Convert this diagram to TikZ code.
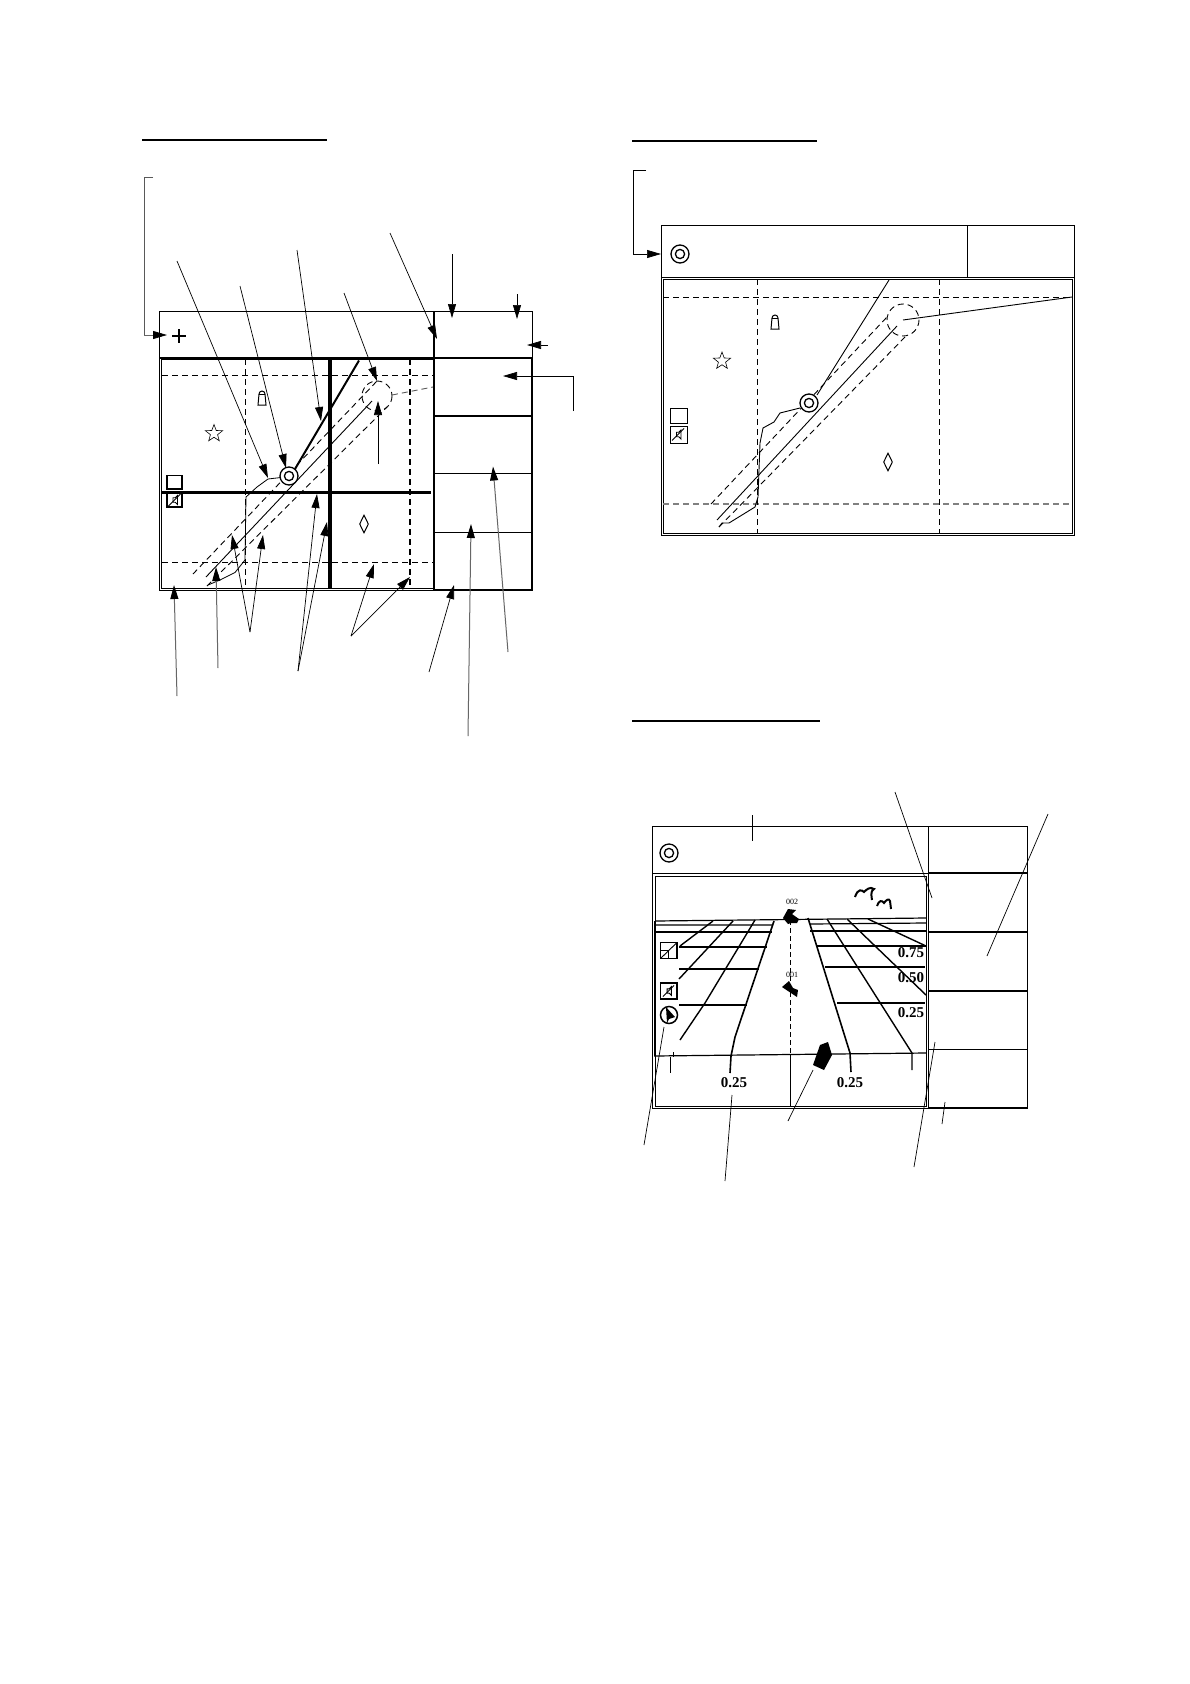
\documentclass[tikz,border=0pt]{standalone}
\usepackage{fontspec}
\setmainfont{Liberation Serif}
\usetikzlibrary{arrows.meta,shapes.geometric}
\tikzset{
  thin line/.style={line width=0.9pt},
  mid line/.style={line width=1.5pt},
  thick bar/.style={line width=2.6pt},
  heavy bar/.style={line width=3.8pt},
  dash line/.style={line width=0.9pt,dash pattern=on 6pt off 4pt},
  grey dash/.style={line width=1.2pt,dash pattern=on 6pt off 4pt,draw=black!50},
  lead/.style={line width=0.7pt,-{Triangle[length=14pt,width=8pt]}},
  greylead/.style={line width=1pt,draw=black!60,-{Triangle[length=14pt,width=8pt,black]}},
  plainlead/.style={line width=0.7pt},
  starmark/.style={star,star points=5,star point ratio=2.4,draw,line width=0.6pt,inner sep=0pt,minimum size=18pt},
  diamark/.style={diamond,draw,line width=1pt,inner sep=0pt,minimum width=9pt,minimum height=18pt},
  pics/ownship/.style={code={
    \draw[line width=1.3pt,fill=white] (0,0) circle[radius=9];
    \draw[line width=1.3pt] (0,0) circle[radius=4.6];}},
  pics/beacon/.style={code={
    \draw[line width=1pt] (-4,7) -- (-3,-4) arc[start angle=180,end angle=360,radius=3] -- (4,7) -- cycle;
    \draw[line width=1pt] (-3.2,-3.5) -- (3.2,-3.5);}},
  pics/speaker/.style={code={
    \draw[line width=0.9pt] (-2,-3) -- (-2,3) -- (1,3) -- (4,6) -- (4,-6) -- (1,-3) -- cycle;
    \draw[line width=0.9pt] (-8,8) -- (8,-8);}},
  scene/.style={line width=1.2pt},
  sign/.style={font=\bfseries\fontsize{15}{15}\selectfont,inner sep=0pt},
  tiny/.style={font=\fontsize{8}{8}\selectfont,inner sep=0pt}
}
\begin{document}
\begin{tikzpicture}[x=1pt,y=-1pt]
\useasboundingbox[fill=white] (0,0) rectangle (1190,1684);

%% ---------- LEFT PANEL ----------
\draw[line width=2pt] (142,140) -- (327,140);
\draw[line width=0.8pt,draw=black!65] (153,177.5) -- (144,177.5) -- (144,335);
\draw[greylead,line width=0.8pt] (144,335) -- (167,335);
\draw[line width=2.8pt] (172,336) -- (186,336) (179,329) -- (179,343);

\draw[thin line] (159,311) rectangle (532,590);
\draw[thin line] (161,359) rectangle (433,588);
% dashed grid
\draw[dash line] (162,375) -- (433,375);
\draw[dash line] (162,562) -- (433,562);
\draw[dash line] (245,359) -- (245,588);
\draw[line width=1.6pt,dash pattern=on 6pt off 4pt] (410,359) -- (410,588);
% softkey column
\draw[thick bar] (159,358) -- (532,358);
\draw[thick bar] (434,311) -- (434,590);
\draw[thick bar] (434,590) -- (532,590) -- (532,358);
\draw[thick bar] (434,416) -- (532,416);
\draw[line width=1.8pt] (434,473.5) -- (532,473.5);
\draw[line width=1pt] (434,532) -- (532,532);
% bars
\draw[heavy bar] (330,359) -- (330,588);
\draw[line width=3pt] (162,492) -- (431,492);
% route
\draw[thin line] (206,577) -- (372,401);
\draw[dash line] (193,574) -- (377,381);
\draw[dash line] (207,586) -- (387,407);
\draw[dash line] (377,396) circle[radius=15];
\draw[dash line,draw=black!65] (392,395) -- (433,387);
\draw[line width=0.8pt] (281,477.5) -- (268,479) -- (257,487) -- (246,497) -- (245,560) -- (235,572.5) -- (220,580) -- (208,585);
\draw[line width=2pt] (295,469) -- (359,360.5);
\pic at (289,476) {ownship};
\pic at (262,398) {beacon};
\node[starmark] (lstar) at (214,433.5) {};
\node[diamark] (ldia) at (364,524) {};
\draw[line width=1.6pt,fill=white] (167,475.5) rectangle (182,489);
\draw[line width=1.6pt,fill=white] (167,493) rectangle (182,507);
\pic[scale=0.75] at (174.5,500) {speaker};
% leaders
\draw[lead] (177,261) -- (268,478);
\draw[lead] (240,286) -- (286,468);
\draw[lead] (297,250) -- (321,421);
\draw[lead] (344,293) -- (377,381);
\draw[lead] (390,233) -- (437,339);
\draw[lead] (452,254) -- (452,318);
\draw[lead] (517,294) -- (517,319);
\draw[lead] (548,345) -- (527,345);
\draw[lead] (573,411) -- (573,376) -- (503,376);
\draw[lead] (378,464) -- (378,401);
\draw[greylead] (177,696) -- (174,585);
\draw[greylead] (218,668) -- (216,567);
\draw[lead] (250,632) -- (232,535);
\draw[lead] (250,632) -- (263,535);
\draw[lead] (298,671) -- (317,494);
\draw[lead] (298,671) -- (327,522);
\draw[lead] (351,636) -- (374,564);
\draw[lead] (351,636) -- (410,577);
\draw[lead] (429,672) -- (454,585);
\draw[greylead] (508,652) -- (493,466.5);
\draw[greylead] (468,736) -- (471,524);

%% ---------- RIGHT TOP PANEL ----------
\draw[line width=2pt] (632,141) -- (817,141);
\draw[thin line] (646,170) -- (633,170) -- (633,254);
\draw[lead] (633,254) -- (661,254);
\draw[thin line] (661,225) rectangle (1074,535);
\draw[thin line] (967,225) -- (967,277);
\draw[thin line] (661,277) -- (1074,277);
\draw[thin line] (663,279) rectangle (1072,533);
\pic at (680,254) {ownship};
\draw[dash line] (663,297) -- (1072,297);
\draw[grey dash] (663,504) -- (1072,504);
\draw[dash line] (757,279) -- (757,533);
\draw[dash line] (939,279) -- (939,533);
\pic at (775,322) {beacon};
\node[starmark] (rstar) at (722,361) {};
\node[diamark] (rdia) at (888,462) {};
\draw[thin line] (670,408) rectangle (687,423);
\draw[thin line] (670,426) rectangle (687,443);
\pic[scale=0.75] at (678,434.5) {speaker};
\draw[thin line] (717,520) -- (897,326);
\draw[dash line] (711,504) -- (887,317);
\draw[dash line] (719,527) -- (905,337);
\draw[dash line] (903,320) circle[radius=16];
\draw[thin line] (903,320) -- (1072,297);
\draw[thin line] (817,395) -- (889,280);
\draw[thin line] (800,408) -- (780,413) -- (774,422) -- (763,428) -- (760,443) -- (758,497) -- (755,507) -- (729,523) -- (722,523) -- (719,527);
\pic at (809,403) {ownship};

%% ---------- RIGHT BOTTOM PANEL ----------
\draw[line width=2pt] (632,721) -- (820,721);
\draw[thin line] (652,826) rectangle (1027,1108);
\draw[thin line] (928,826) -- (928,1108);
\draw[thin line] (652,873) -- (928,873);
\draw[mid line] (928,873) -- (1027,873);
\draw[mid line] (928,932) -- (1027,932);
\draw[mid line] (928,991) -- (1027,991);
\draw[thin line] (928,1049) -- (1027,1049);
\draw[mid line] (928,1108) -- (1027,1108);
\draw[thin line] (655,876) rectangle (926,1106);
\pic at (669,853) {ownship};
% radar perspective
\draw[scene] (655,921) -- (926,918);
\draw[scene] (655,925) -- (772,925) (810,924) -- (926,923);
\draw[scene] (655,932) -- (772,932) (810,931) -- (926,931);
\draw[scene] (655,921) -- (655,1056);
\draw[scene] (654,1056) -- (926,1053);
\draw[scene] (679,947) -- (767,947) (817,946) -- (926,946);
\draw[scene] (679,969) -- (759,969) (825,967) -- (925,967);
\draw[scene] (679,1005) -- (747,1005) (837,1003) -- (925,1003);
\draw[line width=1.6pt] (774,921) -- (735,1037) -- (731,1056) -- (730,1073);
\draw[line width=1.6pt] (808,918) -- (850,1053) -- (851,1072);
\draw[line width=1.4pt] (755,920) -- (705,1003) -- (680,1040);
\draw[line width=1.4pt] (733,921) -- (679,979);
\draw[line width=1.4pt] (713,921) -- (680,946);
\draw[line width=1.4pt] (827,919) -- (912,1053) -- (912,1070);
\draw[line width=1.4pt] (847,919) -- (926,995);
\draw[line width=1.4pt] (868,919) -- (926,946);
\draw[line width=0.9pt] (670,1057) -- (670,1073);
\draw[line width=0.9pt] (673,1052) -- (673,1057);
\draw[line width=0.9pt,dash pattern=on 5pt off 3pt] (790,920) -- (790,1053);
\draw[thin line] (790,1055) -- (790,1106);
\node[sign] (l75) at (911,953) {0.75};
\node[sign] (l50) at (911,978) {0.50};
\node[sign] (l25a) at (911,1013) {0.25};
\node[sign] (l25b) at (734,1083) {0.25};
\node[sign] (l25c) at (850,1083) {0.25};
\node[tiny] (t002) at (792,902) {002};
\node[tiny] (t001) at (792,975) {001};
% targets
\fill (783,918) -- (788,909) -- (796,910) -- (792,914) -- (799,919) -- (797,923) -- (791,923) -- (788,924) -- cycle;
\fill (782,987) -- (789,981) -- (793,988) -- (798,990) -- (797,997) -- (791,993) -- cycle;
\fill (820,1045) -- (828,1042) -- (832,1055) -- (824,1070) -- (813,1065) -- cycle;
% birds
\draw[line width=2pt] (855,897) .. controls (858,888) and (862,890) .. (864,892) .. controls (866,890) and (870,886) .. (874,889) .. controls (871,891) and (871,893) .. (872,900);
\draw[line width=2pt] (877,906) .. controls (879,900) and (882,900) .. (884,903) .. controls (886,900) and (889,898) .. (890,901) -- (891,909);
% side icons
\draw[mid line] (660.5,942.5) rectangle (677,958.5);
\draw[thin line] (660.5,958.5) -- (677,942.5) (668.5,950.5) -- (668.5,958.5) (660.5,950.5) -- (668.5,950.5);
\draw[mid line] (660.5,983) rectangle (677,999);
\pic[scale=0.7] at (668.5,991) {speaker};
\draw[mid line] (669,1015) circle[radius=8.5];
\fill (666,1007) -- (675,1017) -- (669,1019) -- (667,1023) -- cycle;
% leaders, no heads
\draw[plainlead] (752,815) -- (752,841);
\draw[plainlead] (895,792) -- (932,898);
\draw[plainlead] (1048,814) -- (987,956);
\draw[plainlead] (664,1027) -- (644,1145);
\draw[plainlead] (732,1095) -- (725,1181);
\draw[plainlead] (813,1070) -- (788,1121);
\draw[plainlead] (935,1042) -- (914,1167);
\draw[plainlead] (945,1102) -- (942,1124);
\end{tikzpicture}
\end{document}
